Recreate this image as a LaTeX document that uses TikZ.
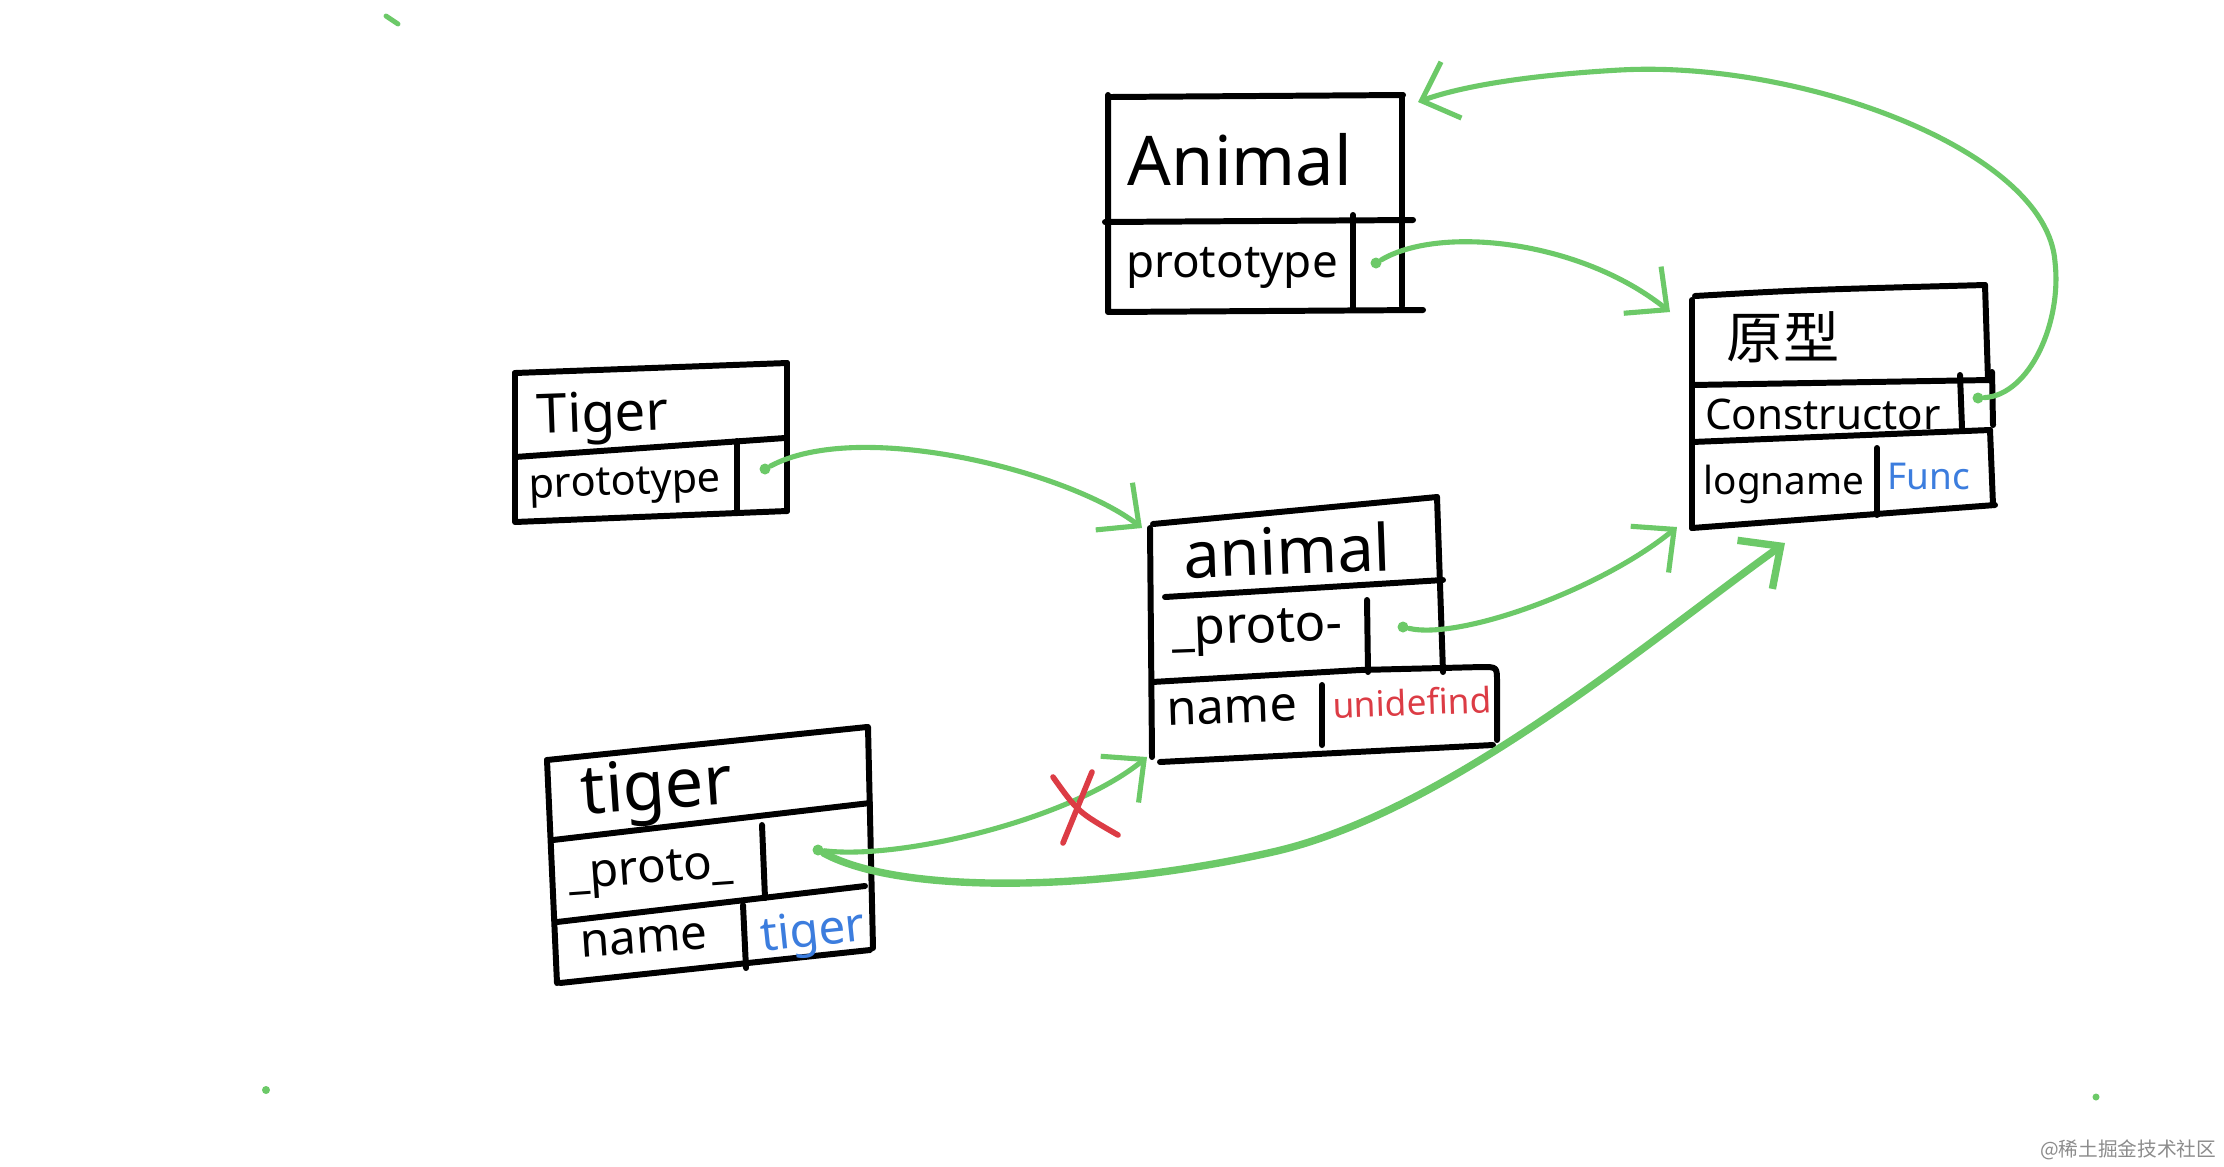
\documentclass[tikz,border=0pt]{standalone}
\usepackage{fontspec}
\setmainfont{Noto Sans}
\newfontfamily\cjkfont{Noto Sans CJK SC}
\usetikzlibrary{arrows.meta}
\definecolor{hgreen}{HTML}{6CC968}
\definecolor{hred}{HTML}{DC3C45}
\definecolor{hblue}{HTML}{3C7DDE}
\newcommand{\hfs}[1]{\fontsize{#1}{#1}\selectfont}
\begin{document}
\begin{tikzpicture}[x=0.01cm,y=-0.01cm,
  box/.style={line width=1.7pt,line cap=round,line join=round},
  lbl/.style={inner sep=0pt,text=black},
  gdot/.style={circle,fill=hgreen,inner sep=0pt,minimum size=0.11cm},
  garrow/.style={draw=hgreen,line width=1.45pt,line cap=round,line join=round,-{Straight Barb[length=9pt,width=17pt]}},
  redx/.style={draw=hred,line width=1.6pt,line cap=round}]
\fill[white] (0,0) rectangle (2224,1166);
\useasboundingbox (0,0) rectangle (2224,1166);

% ---------- Animal (constructor) ----------
\draw[box] (1108,95) -- (1108,312) -- (1423,310);
\draw[box] (1110,97) -- (1403,95);
\draw[box] (1402,95) -- (1402,306);
\draw[box] (1105,222) -- (1413,220);
\draw[box] (1353,215) -- (1353,308);
\node[lbl,font=\hfs{19.5}] (AnimalT) at (1240,160) {Animal};
\node[lbl,font=\hfs{13}] (AnimalP) at (1232,268) {prototype};
\node[gdot] (dA) at (1376,263) {};

% ---------- 原型 ----------
\draw[box] (1692,300) -- (1692,528);
\draw[box] (1695,296) .. controls (1800,290) .. (1985,285);
\draw[box] (1985,285) -- (1988,380);
\draw[box] (1692,385) -- (1990,380);
\draw[box] (1960,375) -- (1962,428);
\draw[box] (1992,372) -- (1993,425);
\draw[box] (1692,442) -- (1990,430);
\draw[box] (1990,430) -- (1993,505);
\draw[box] (1692,528) -- (1995,505);
\draw[box] (1877,448) -- (1877,515);
\node[lbl,font=\cjkfont\hfs{16}] (ProtoT) at (1783,337) {原型};
\node[lbl,font=\hfs{12}] (ProtoC) at (1823,414) {Constructor};
\node[lbl,font=\hfs{11}] (ProtoL) at (1784,484) {logname};
\node[lbl,font=\hfs{10.5},text=hblue] (ProtoF) at (1929,476) {Func};
\node[gdot] (dC) at (1978,398) {};

% ---------- Tiger (constructor) ----------
\draw[box] (515,373) -- (787,363);
\draw[box] (515,373) -- (515,522) -- (787,511);
\draw[box] (787,363) -- (787,511);
\draw[box] (515,457) -- (785,438);
\draw[box] (737,441) -- (737,513);
\node[lbl,font=\hfs{15.5},rotate=2] (TigerT) at (603,418) {Tiger};
\node[lbl,font=\hfs{11.8},rotate=2] (TigerP) at (625,486) {prototype};
\node[gdot] (dT) at (765,469) {};

% ---------- animal (instance) ----------
\draw[box] (1153,524) -- (1437,497);
\draw[box] (1437,497) -- (1443,672);
\draw[box] (1150,528) -- (1152,757);
\draw[box] (1165,597) -- (1443,580);
\draw[box] (1367,600) -- (1368,672);
\draw[box] (1152,682) -- (1360,670) -- (1482,667) .. controls (1497,667) .. (1497,682) -- (1497,740);
\draw[box] (1160,762) -- (1493,745);
\draw[box] (1322,685) -- (1322,745);
\node[lbl,font=\hfs{18.5},rotate=2] (animT) at (1287,550) {animal};
\node[lbl,font=\hfs{14.5},rotate=2] (animP) at (1257,632) {\_proto-};
\node[lbl,font=\hfs{13.8},rotate=2] (animN) at (1232,710) {name};
\node[lbl,font=\hfs{10},text=hred,rotate=2] (animU) at (1412,702) {unidefind};
\node[gdot] (da) at (1403,627) {};

% ---------- tiger (instance) ----------
\draw[box] (547,760) -- (867,727);
\draw[box] (547,760) -- (557,983);
\draw[box] (868,727) -- (873,948);
\draw[box] (553,840) -- (870,803);
\draw[box] (762,825) -- (765,898);
\draw[box] (557,922) -- (865,886);
\draw[box] (743,905) -- (746,968);
\draw[box] (560,983) -- (870,950);
\node[lbl,font=\hfs{19.5},rotate=4] (tigT) at (657,792) {tiger};
\node[lbl,font=\hfs{13.5},rotate=4] (tigP) at (651,873) {\_proto\_};
\node[lbl,font=\hfs{13.5},rotate=4] (tigN) at (644,940) {name};
\node[lbl,font=\hfs{13.5},text=hblue,rotate=6] (tigV) at (813,934) {tiger};
\node[gdot] (dt) at (818,850) {};

% ---------- arrow targets ----------
\coordinate (tP1) at (1670,312);
\coordinate (tA1) at (1418,102);
\coordinate (ta1) at (1142,528);
\coordinate (tP2) at (1677,527);
\coordinate (ta2) at (1147,757);
\coordinate (tP3) at (1785,543);
\coordinate (k1) at (2055,262);
\coordinate (k2) at (1620,70);
\coordinate (k3) at (1277,851);

% ---------- connectors ----------
\draw[garrow] (dA) .. controls (1440,225) and (1580,240) .. (tP1);
\draw[garrow] (dC) .. controls (2030,395) and (2062,322) .. (k1)
   .. controls (2047,150) and (1800,60) .. (k2)
   .. controls (1530,75) and (1462,86) .. (tA1);
\draw[garrow] (dT) .. controls (860,418) and (1070,472) .. (ta1);
\draw[garrow] (da) .. controls (1460,640) and (1600,590) .. (tP2);
\draw[garrow] (dt) .. controls (900,860) and (1070,820) .. (ta2);
\draw[garrow,line width=2.1pt] (dt) .. controls (900,895) and (1100,892) .. (k3)
   .. controls (1450,810) and (1650,640) .. (tP3);

% ---------- red cross ----------
\draw[redx] (1053,777) .. controls (1078,812) .. (1118,835);
\draw[redx] (1092,772) -- (1063,843);

% ---------- stray marks ----------
\draw[hgreen,line width=1.4pt,line cap=round] (386,16) -- (398,24);
\fill[hgreen] (266,1090) circle (4);
\fill[hgreen] (2096,1097) circle (3.5);

% ---------- watermark ----------
\node[inner sep=0pt,anchor=east,text=black!45,font=\cjkfont\hfs{5.6}] (wm) at (2217,1150) {@稀土掘金技术社区};
\end{tikzpicture}
\end{document}
